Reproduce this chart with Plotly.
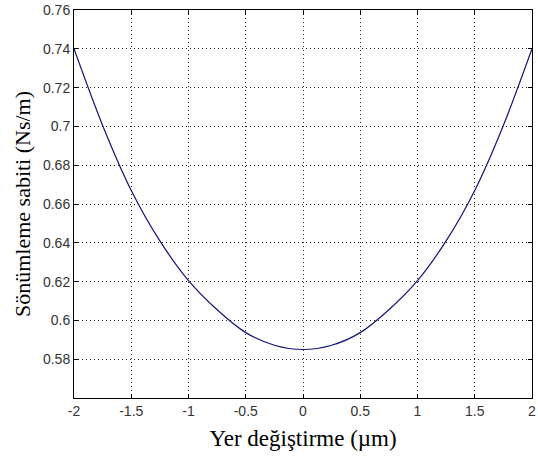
import plotly.graph_objects as go

x_vals = [-2.0, -1.75, -1.5, -1.25, -1.0, -0.75, -0.5, -0.25, 0.0,
          0.25, 0.5, 0.75, 1.0, 1.25, 1.5, 1.75, 2.0]
damping = [0.740, 0.7005, 0.667, 0.641, 0.6205, 0.6055, 0.5937, 0.5872, 0.585,
           0.5872, 0.5937, 0.6055, 0.6205, 0.641, 0.667, 0.7005, 0.740]

x_ticks = [-2, -1.5, -1, -0.5, 0, 0.5, 1, 1.5, 2]
x_labels = ["-2", "-1.5", "-1", "-0.5", "0", "0.5", "1", "1.5", "2"]
y_ticks = [0.58, 0.60, 0.62, 0.64, 0.66, 0.68, 0.70, 0.72, 0.74, 0.76]
y_labels = ["0.58", "0.6", "0.62", "0.64", "0.66", "0.68", "0.7", "0.72", "0.74", "0.76"]

fig = go.Figure()
fig.add_trace(go.Scatter(x=x_vals, y=damping, mode="lines",
                         line=dict(color="#14147a", width=1.2, shape="spline", smoothing=0.9),
                         showlegend=False))

axis_common = dict(showline=True, linecolor="black", linewidth=1, mirror="ticks",
                   ticks="inside", ticklen=4, tickcolor="black",
                   showgrid=True, gridcolor="#222222", griddash="1px,3px", gridwidth=1,
                   zeroline=False, ticklabeloverflow="allow",
                   tickfont=dict(family="Liberation Sans", size=14, color="#333333"))

fig.update_xaxes(range=[-2, 2], tickvals=x_ticks, ticktext=x_labels,
                 title=dict(text="Yer değiştirme (µm)",
                            font=dict(family="Liberation Serif", size=23, color="black"),
                            standoff=12),
                 **axis_common)
fig.update_yaxes(range=[0.56, 0.76], tickvals=y_ticks, ticktext=y_labels,
                 title=dict(text="Sönümleme sabiti (Ns/m)",
                            font=dict(family="Liberation Serif", size=22, color="black"),
                            standoff=6),
                 **axis_common)

fig.update_layout(width=538, height=461, margin=dict(l=74, r=2, t=10, b=63),
                  plot_bgcolor="white", paper_bgcolor="white")

fig.write_html("out.html")
